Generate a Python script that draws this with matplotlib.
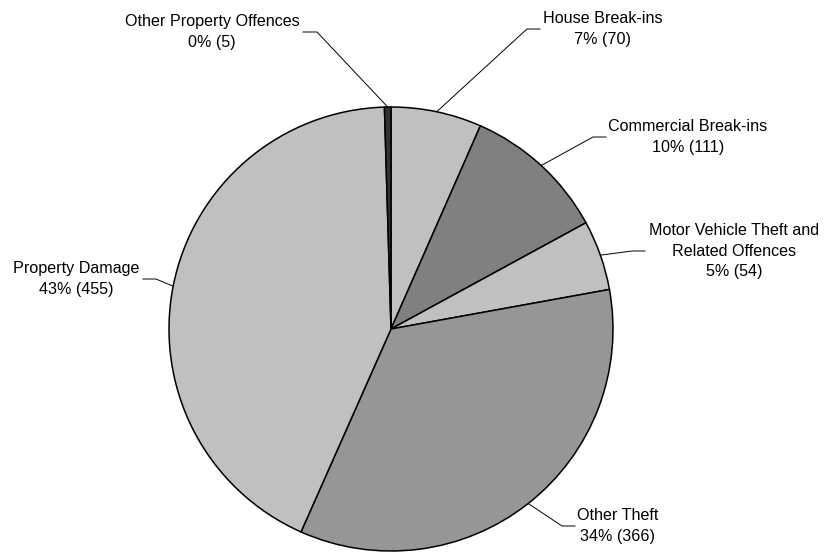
import numpy as np
import matplotlib
matplotlib.use('Agg')
import matplotlib.pyplot as plt

plt.rcParams['font.family'] = ['Liberation Sans', 'DejaVu Sans']

categories = ['House Break-ins', 'Commercial Break-ins',
              'Motor Vehicle Theft and\nRelated Offences', 'Other Theft',
              'Property Damage', 'Other Property Offences']
counts = [70, 111, 54, 366, 455, 5]
percent_labels = ['7%', '10%', '5%', '34%', '43%', '0%']
colors = ['#c0c0c0', '#808080', '#c0c0c0', '#969696', '#c0c0c0', '#333333']

W, H = 824, 552
cx, cy, r = 391, 329, 222

# label text centre, leader elbow and leader end (pixel coords, y down)
label_pos = [(603, 29), (688, 137), (734, 251), (618, 526), (76, 279), (212, 32)]
elbows = [(527, 29), (593, 137), (632, 251), (562, 526), (156, 279), (317, 32)]
ends = [(540, 29), (606, 137), (645, 251), (575, 526), (143, 279), (303, 32)]

fig = plt.figure(figsize=(W / 100, H / 100), dpi=100)
ax = fig.add_axes([0, 0, 1, 1])

wedges, _ = ax.pie(counts, colors=colors, startangle=90, counterclock=False,
                   center=(cx, H - cy), radius=r,
                   wedgeprops=dict(edgecolor='black', linewidth=1.1))

# pie() resets the limits, so set them afterwards
ax.set_xlim(0, W)
ax.set_ylim(0, H)
ax.set_aspect('equal')
ax.axis('off')

total = sum(counts)
cum = np.cumsum([0] + counts)
for i, name in enumerate(categories):
    mid = (cum[i] + counts[i] / 2) / total * 360
    ang = np.deg2rad(90 - mid)
    ex = cx + r * np.cos(ang)
    ey = H - cy + r * np.sin(ang)
    bx, by = elbows[i]
    tx, ty = ends[i]
    ax.plot([ex, bx, tx], [ey, H - by, H - ty], color='black', lw=0.7,
            zorder=1)
    lx, ly = label_pos[i]
    ax.text(lx, H - ly, '%s\n%s (%d)' % (name, percent_labels[i], counts[i]),
            ha='center', va='center', fontsize=11.6, linespacing=1.45,
            color='black')

fig.savefig('out.png', dpi=100)
